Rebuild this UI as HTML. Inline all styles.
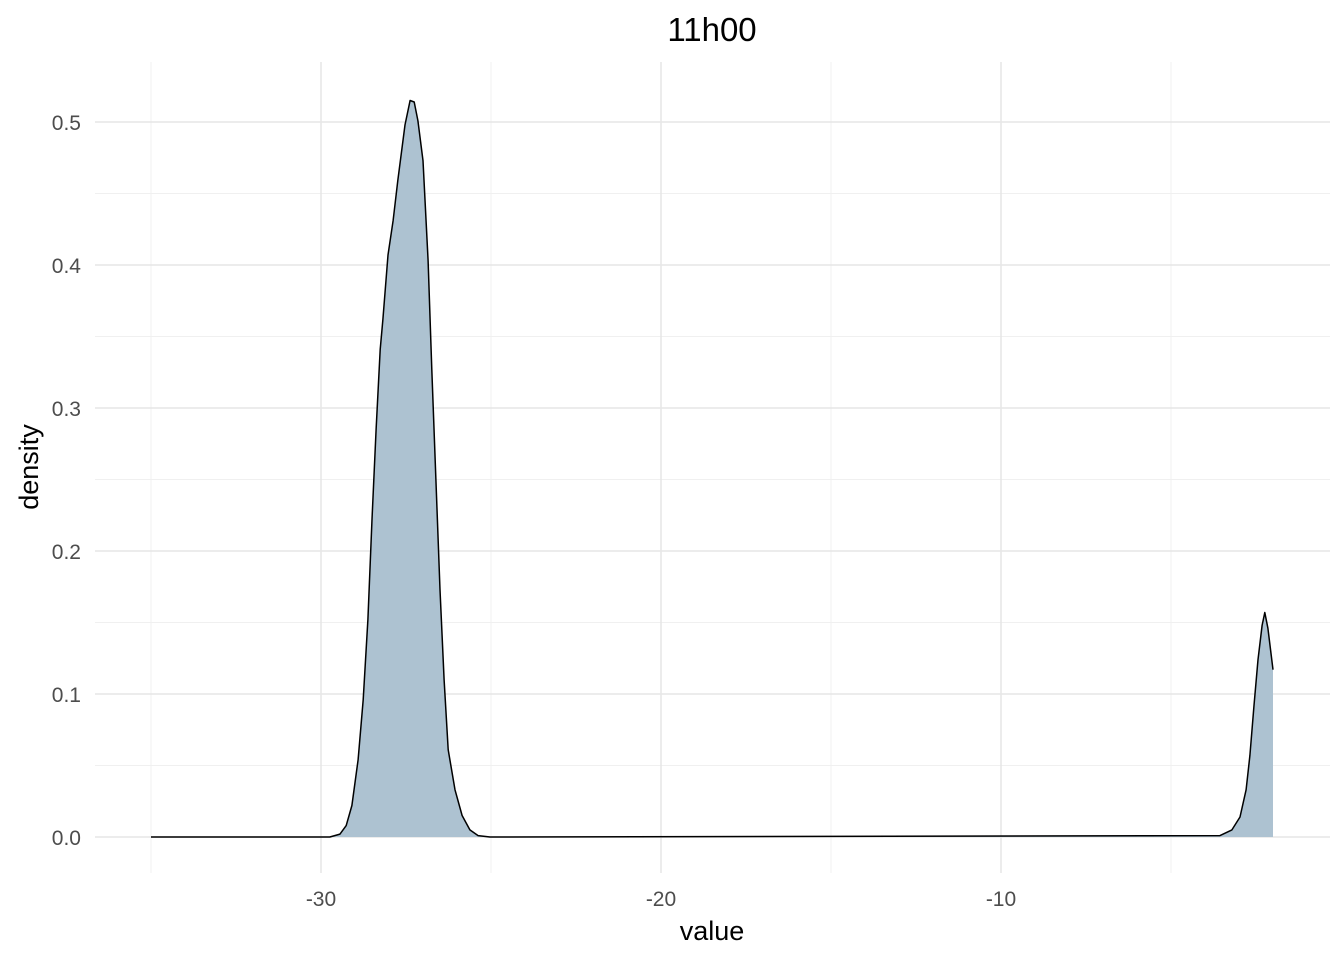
<!DOCTYPE html>
<html><head><meta charset="utf-8"><style>
html,body{margin:0;padding:0;background:#fff;}
svg{display:block;font-family:"Liberation Sans",Arial,sans-serif;}
</style></head><body>
<svg id="chart" width="1344" height="960" viewBox="0 0 1344 960" xmlns="http://www.w3.org/2000/svg">
<g id="grid"></g>
<g id="marks"></g>
<g id="axes"></g>
<text x="712" y="41" text-anchor="middle" font-size="33" fill="#000">11h00</text>
<text x="712" y="940" text-anchor="middle" font-size="27" fill="#000">value</text>
<text transform="translate(38,467) rotate(-90)" text-anchor="middle" font-size="27" fill="#000">density</text>
</svg>
<script>
const xValues = [-35,-29.74,-29.44,-29.26,-29.09,-28.91,-28.76,-28.62,-28.50,-28.38,-28.26,-28.18,-28.03,-27.88,-27.74,-27.53,-27.38,-27.26,-27.15,-27.00,-26.85,-26.74,-26.62,-26.50,-26.38,-26.26,-26.06,-25.85,-25.62,-25.38,-25.03,-3.56,-3.21,-2.97,-2.79,-2.68,-2.56,-2.44,-2.32,-2.24,-2.15,-2.00];
const densityValues = [0,0,0.002,0.008,0.022,0.054,0.096,0.152,0.222,0.285,0.341,0.362,0.407,0.431,0.459,0.498,0.515,0.514,0.501,0.473,0.403,0.327,0.250,0.173,0.110,0.061,0.033,0.015,0.005,0.001,0,0.001,0.005,0.014,0.033,0.057,0.092,0.124,0.148,0.157,0.146,0.117];
const xTicks = [-30,-20,-10];
const xMinor = [-35,-25,-15,-5];
const yTicks = [0,0.1,0.2,0.3,0.4,0.5];
const yMinor = [0.05,0.15,0.25,0.35,0.45];

const NS = "http://www.w3.org/2000/svg";
const X = v => 321 + (v + 30) * 34;
const Y = d => 837 - d * 1430;
const L = 95, R = 1330, T = 62, B = 873;
function mk(tag, attrs, parent){const e=document.createElementNS(NS,tag);for(const k in attrs)e.setAttribute(k,attrs[k]);parent.appendChild(e);return e;}
const grid=document.getElementById('grid'), marks=document.getElementById('marks'), axes=document.getElementById('axes');
xMinor.forEach(v=>{const l=mk('line',{x1:X(v),x2:X(v),y1:T,y2:B,stroke:'#f0f0f0','stroke-width':1},grid);

});
yMinor.forEach(v=>{const l=mk('line',{x1:L,x2:R,y1:Y(v),y2:Y(v),stroke:'#f0f0f0','stroke-width':1},grid);

});
xTicks.forEach(v=>{const l=mk('line',{x1:X(v),x2:X(v),y1:T,y2:B,stroke:'#e6e6e6','stroke-width':1.5},grid);


const t=mk('text',{x:X(v),y:906,'text-anchor':'middle','font-size':21,fill:'#4d4d4d'},axes);t.textContent=v;

});
yTicks.forEach(v=>{const l=mk('line',{x1:L,x2:R,y1:Y(v),y2:Y(v),stroke:'#e6e6e6','stroke-width':1.5},grid);


const t=mk('text',{x:81,y:Y(v)+8,'text-anchor':'end','font-size':21,fill:'#4d4d4d'},axes);t.textContent=v.toFixed(1);

});
let pts=xValues.map((v,i)=>X(v).toFixed(1)+','+Y(densityValues[i]).toFixed(1));
const area=mk('polygon',{points:X(xValues[0])+','+Y(0)+' '+pts.join(' ')+' '+X(xValues[xValues.length-1])+','+Y(0),fill:'#adc2d1',stroke:'none'},marks);


const line=mk('polyline',{points:pts.join(' '),fill:'none',stroke:'#000','stroke-width':1.5,'stroke-linejoin':'round'},marks);


</script>
</body></html>
